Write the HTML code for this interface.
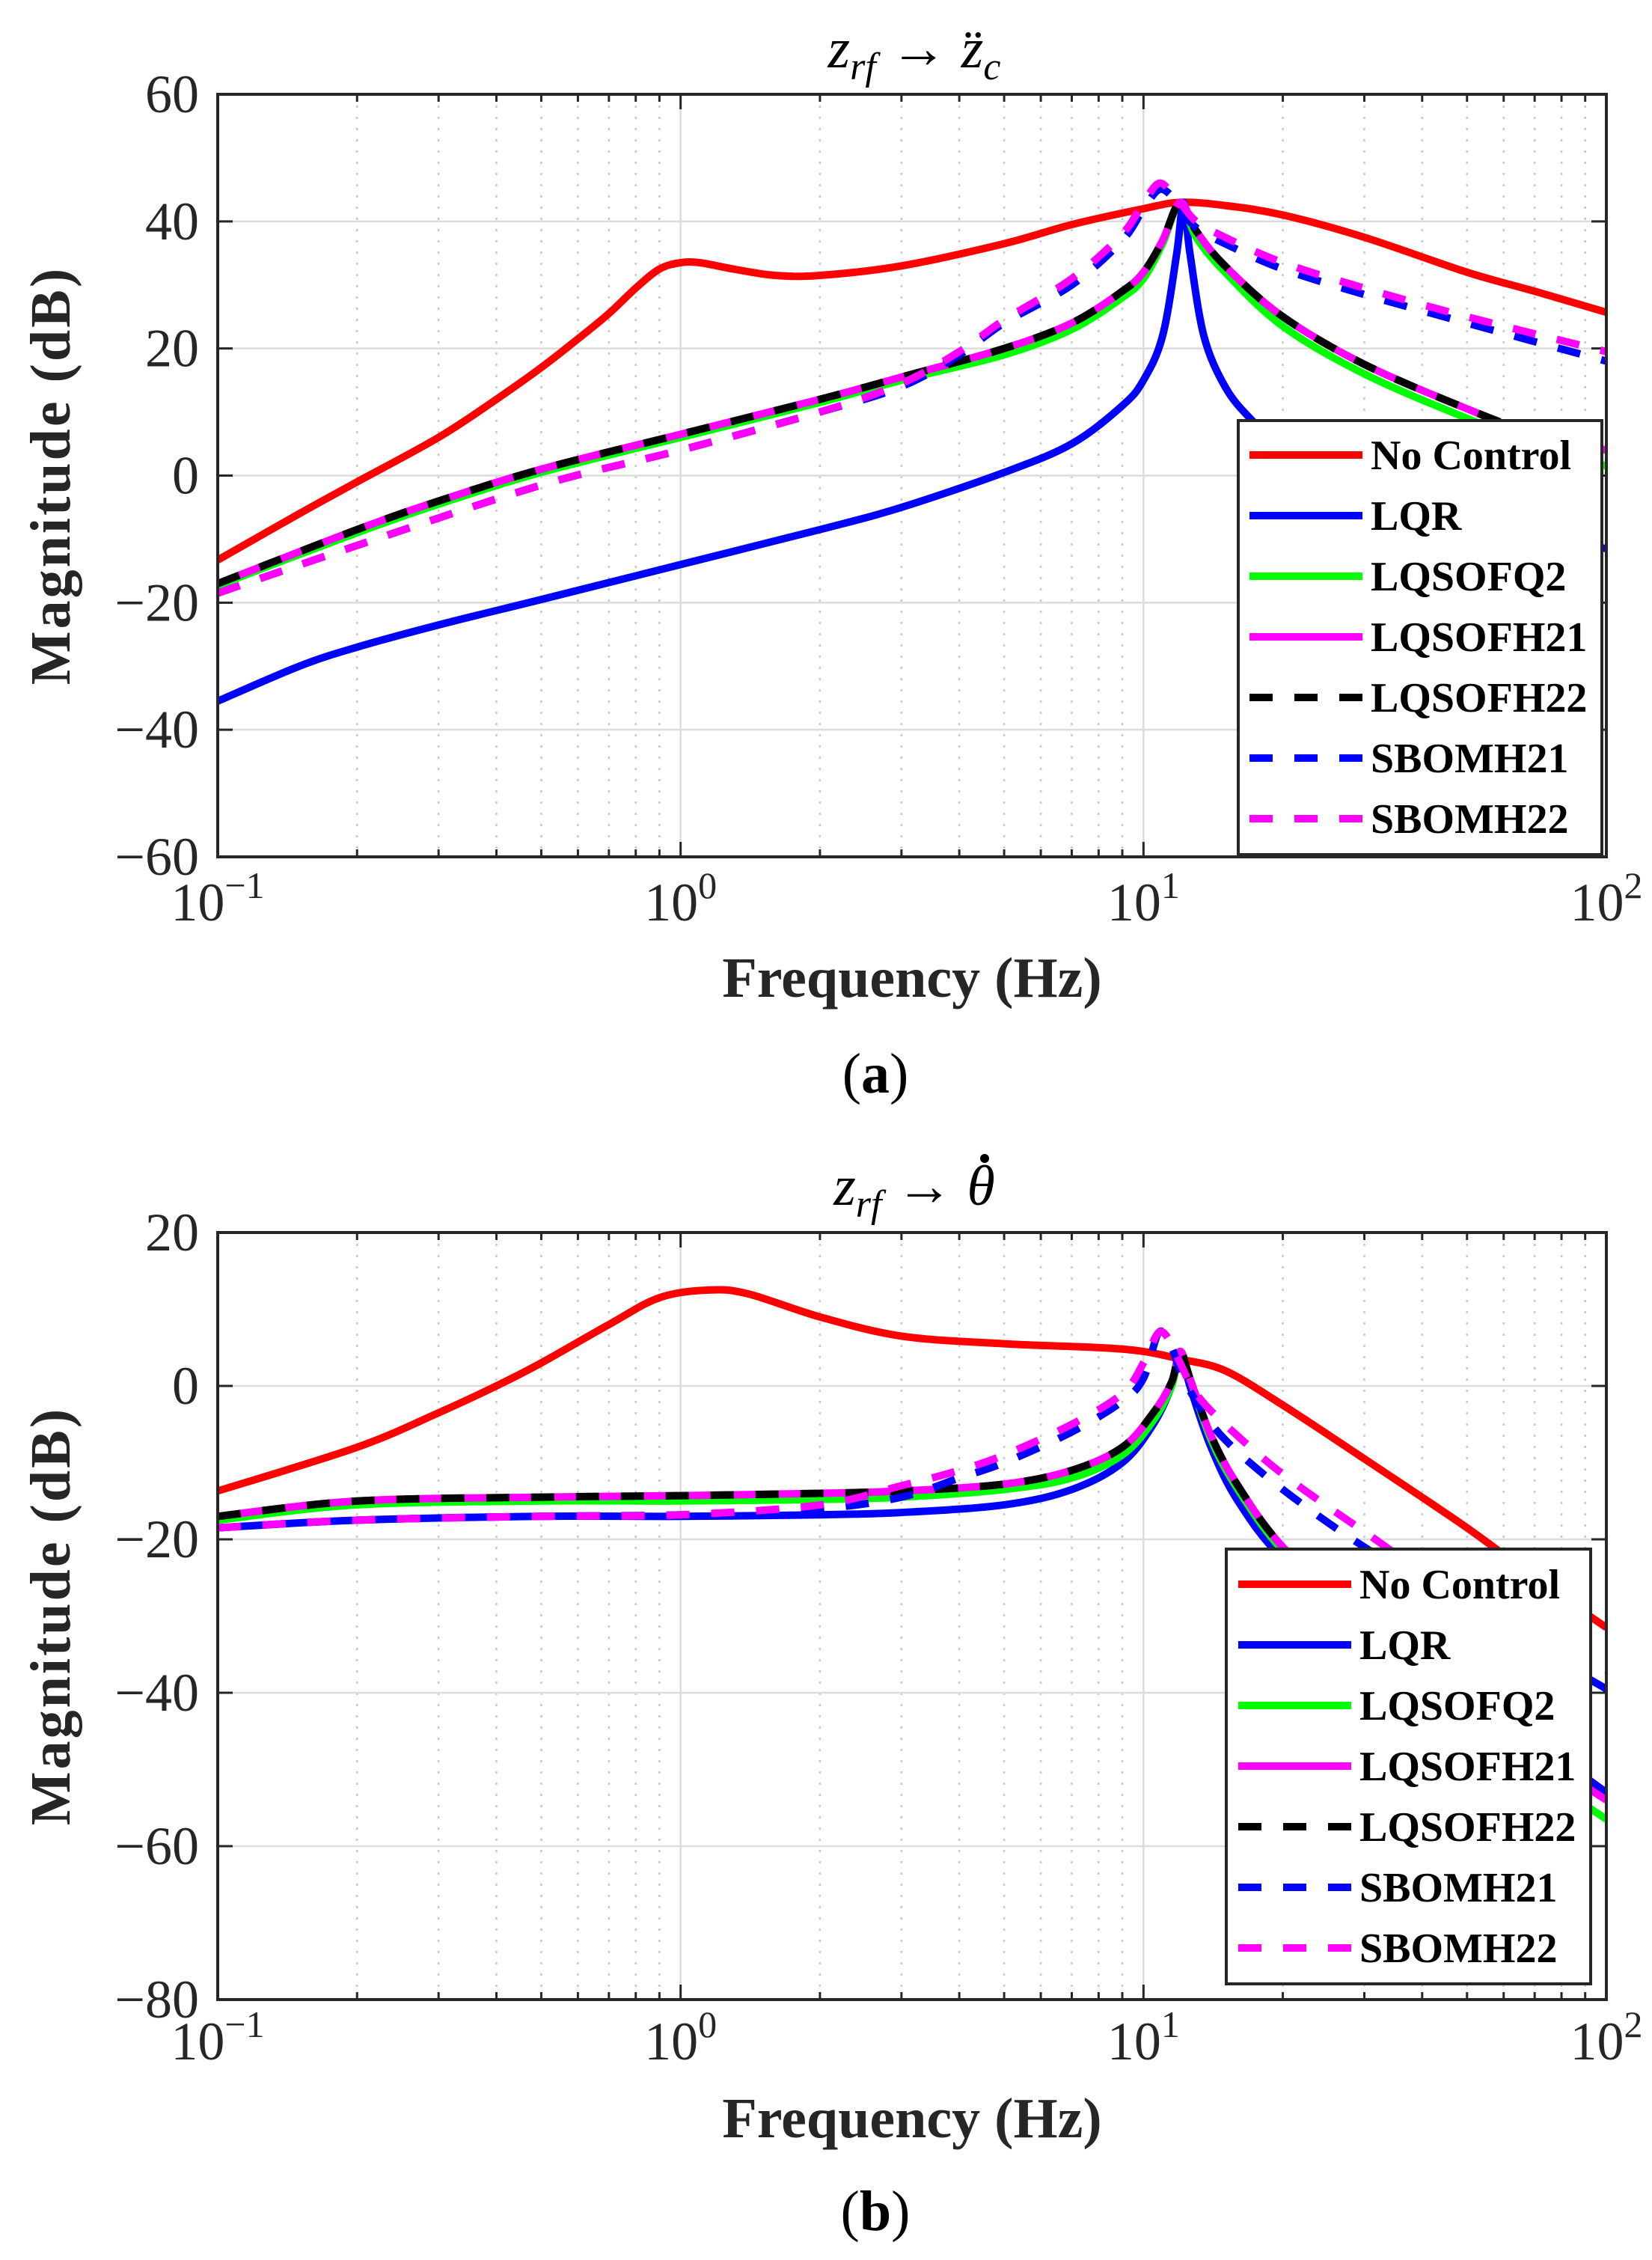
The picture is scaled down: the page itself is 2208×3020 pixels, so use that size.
<!DOCTYPE html>
<html><head><meta charset="utf-8"><style>
html,body{margin:0;padding:0;background:#fff;}
svg{display:block;}
</style></head><body>
<svg id="fig" width="2208" height="3020" viewBox="0 0 2208 3020" xmlns="http://www.w3.org/2000/svg"></svg>
<script>
// ---------- Data (panel a: z_rf -> z_c'') ----------
const freqA_noctl = [0.1,0.15,0.2,0.3,0.4,0.5,0.6,0.7,0.8,0.9,1.0,1.1,1.3,1.6,2,3,5,7,10,12,15,20,30,50,70,100];
const magA_noctl  = [-13.3,-6,-1,6,12,17,21.5,25.5,29.5,32.5,33.5,33.5,32.5,31.5,31.5,33,36.5,39.5,42,43,42.5,41,37.5,32,29,25.7];
const freqA_lqr = [0.1,0.15,0.2,0.3,0.5,1,2,3,5,7,9,10,11,11.8,12.2,12.6,13.5,15,17,20,30,50,100];
const magA_lqr  = [-35.5,-30,-27,-23.5,-19.5,-14,-8.5,-5,0.5,5,11,15,22,35,43,35,22,14,9,4.5,-2,-7,-11.5];
const freqA_q2 = [0.1,0.2,0.3,0.5,1,2,3,5,7,9,10,11,12,13,15,20,30,50,70,100];
const magA_q2  = [-17.3,-9,-4.5,0.5,6,11.5,15,19,23,28,31,36.5,43,37.5,32,23.5,16,9,5,1.5];
const magA_h21 = [-17,-8.5,-4,1,6.5,12,15.5,20,24,29,32,37,43,38.5,33,25,17.5,10.5,6.5,4];
const magA_h22 = [-17,-8.5,-4,1,6.5,12,15.5,20,24,29,32,37,43,38.5,33,25,17.5,10.5,6.5,3];
const freqA_sb = [0.1,0.2,0.5,1,2,3,4,5,7,9,10,10.8,11.5,12,13,15,20,30,50,100];
const magA_sb21 = [-18.5,-11,-1.5,4,10,14,19,24,30,37,42,45,44,42,39,36.5,32.5,28.5,24,18];
const magA_sb22 = [-18.5,-11,-1.5,4,10,14.5,19.5,24.5,31,38,43,46,44.5,43,40,37.5,33.5,29.5,25,19.5];

// ---------- Data (panel b: z_rf -> theta') ----------
const freqB_noctl = [0.1,0.2,0.3,0.4,0.5,0.7,0.9,1.15,1.4,2,3,5,8,10,12,15,20,30,50,70,100];
const magB_noctl  = [-13.7,-8,-3.5,0,3,8,11.5,12.5,12,9,6.5,5.5,5,4.5,3.5,2,-2.5,-9.5,-18.5,-25,-31.5];
const freqB_ctl = [0.1,0.2,0.5,1,2,3,5,7,9,10.5,11.5,12,12.6,14,16,20,30,50,100];
const magB_lqr = [-18.5,-17.5,-17,-17,-16.8,-16.5,-15.5,-13.5,-10,-5,0,4.5,0,-8,-15,-22.5,-31,-40,-53];
const magB_q2  = [-17.5,-15.5,-15,-15,-14.8,-14.5,-13.5,-12,-9,-4.5,0,4.5,1,-7,-13.5,-21.5,-32,-44,-56.5];
const magB_h21 = [-17,-15,-14.5,-14.3,-14,-13.7,-12.8,-11,-8,-3.5,0.5,4.5,1,-6.5,-13,-21,-31,-42,-54];
const magB_h22 = [-17,-15,-14.5,-14.3,-14,-13.7,-12.8,-11,-8,-3.5,0.5,4.5,1,-6.5,-13,-21,-31,-42,-53.5];
const freqB_sb = [0.1,0.2,0.5,1,2,3,4,5,7,9,10,10.8,11.5,12,13,15,20,30,50,100];
const magB_sb21 = [-18.5,-17.5,-17,-16.8,-16,-14.5,-12,-10,-6,-2,1,7,5,2,-2,-7,-13.5,-21,-29,-39.5];
const magB_sb22 = [-18.5,-17.5,-17,-16.8,-15.5,-13,-11,-9,-5,-1,3,7,5.5,3,-1,-5,-11.5,-19,-28,-37];

const legendNames = ["No Control","LQR","LQSOFQ2","LQSOFH21","LQSOFH22","SBOMH21","SBOMH22"];
const yTicksA = [60,40,20,0,-20,-40,-60];
const yTicksB = [20,0,-20,-40,-60,-80];
const xDecades = [-1,0,1,2];

const NS="http://www.w3.org/2000/svg";
const svg=document.getElementById('fig');
function el(tag,attrs,parent){const e=document.createElementNS(NS,tag);for(const k in attrs)e.setAttribute(k,attrs[k]);(parent||svg).appendChild(e);return e;}

const styles=[
 {c:'#ff0000',d:null},{c:'#0000ff',d:null},{c:'#00ff00',d:null},{c:'#ff00ff',d:null},
 {c:'#000000',d:'31 29'},{c:'#0000ff',d:'31 29'},{c:'#ff00ff',d:'31 29'}];

function catmull(pts){
  let d='M'+pts[0][0].toFixed(1)+','+pts[0][1].toFixed(1);
  for(let i=0;i<pts.length-1;i++){
    const p0=pts[Math.max(0,i-1)],p1=pts[i],p2=pts[i+1],p3=pts[Math.min(pts.length-1,i+2)];
    const c1=[p1[0]+(p2[0]-p0[0])/6,p1[1]+(p2[1]-p0[1])/6];
    const c2=[p2[0]-(p3[0]-p1[0])/6,p2[1]-(p3[1]-p1[1])/6];
    d+=' C'+c1[0].toFixed(1)+','+c1[1].toFixed(1)+' '+c2[0].toFixed(1)+','+c2[1].toFixed(1)+' '+p2[0].toFixed(1)+','+p2[1].toFixed(1);
  }
  return d;
}

function panel(cfg){
  const {id,L,R,T,B,ymin,ymax,yTicks,series,leg,xlabY,tickY,capY,cap,titleY,titleParts,dot}=cfg;
  const g=el('g',{});
  
  
  const xs=f=>L+(Math.log10(f)+1)/3*(R-L);
  const ys=v=>T+(ymax-v)/(ymax-ymin)*(B-T);
  for(let dec=-1;dec<2;dec++)for(let m=2;m<=9;m++){
    const x=xs(m*Math.pow(10,dec));
    const ln=el('line',{x1:x,x2:x,y1:T,y2:B,stroke:'#c8c8c8','stroke-width':2.5,'stroke-dasharray':'3 12'},g);
    
    
    el('line',{x1:x,x2:x,y1:B,y2:B-10,stroke:'#262626','stroke-width':3},g);
    el('line',{x1:x,x2:x,y1:T,y2:T+10,stroke:'#262626','stroke-width':3},g);
  }
  xDecades.forEach(dv=>{
    const x=xs(Math.pow(10,dv));
    const ln=el('line',{x1:x,x2:x,y1:T,y2:B,stroke:'#dcdcdc','stroke-width':2.5},g);
    
    
    el('line',{x1:x,x2:x,y1:B,y2:B-20,stroke:'#262626','stroke-width':3},g);
    el('line',{x1:x,x2:x,y1:T,y2:T+20,stroke:'#262626','stroke-width':3},g);
    const t=el('text',{x:x,y:tickY,'text-anchor':'middle','font-family':'Liberation Serif, serif','font-size':72,fill:'#262626'},g);
    
    
    t.textContent='10';
    const s=el('tspan',{dy:-30,'font-size':50},t);
    s.textContent=dv<0?'\u2212'+Math.abs(dv):String(dv);
  });
  yTicks.forEach(v=>{
    const y=ys(v);
    const ln=el('line',{x1:L,x2:R,y1:y,y2:y,stroke:'#dcdcdc','stroke-width':2.5},g);
    
    
    el('line',{x1:L,x2:L+20,y1:y,y2:y,stroke:'#262626','stroke-width':3},g);
    el('line',{x1:R,x2:R-20,y1:y,y2:y,stroke:'#262626','stroke-width':3},g);
    const t=el('text',{x:266,y:y+24,'text-anchor':'end','font-family':'Liberation Serif, serif','font-size':72,fill:'#262626'},g);
    
    
    t.textContent=v<0?'\u2212'+Math.abs(v):String(v);
  });
  const clipId='clip'+id;
  const cp=el('clipPath',{id:clipId},g);
  el('rect',{x:L,y:T,width:R-L,height:B-T},cp);
  const cg=el('g',{'clip-path':'url(#'+clipId+')'},g);
  series.forEach((s,i)=>{
    const pts=s.f.map((f,k)=>[xs(f),ys(s.v[k])]);
    const p=el('path',{d:catmull(pts),fill:'none',stroke:styles[i].c,'stroke-width':10,'stroke-linejoin':'round'},cg);
    if(styles[i].d)p.setAttribute('stroke-dasharray',styles[i].d);
    
    
  });
  const fr=el('rect',{x:L,y:T,width:R-L,height:B-T,fill:'none',stroke:'#262626','stroke-width':4},g);
  
  
  const lg=el('g',{},g);
  
  
  el('rect',{x:leg.x,y:leg.y,width:leg.w,height:leg.h,fill:'#fff',stroke:'#262626','stroke-width':4},lg);
  legendNames.forEach((n,i)=>{
    const cy=leg.row0+i*leg.dy;
    const e=el('g',{},lg);
    
    
    const ln=el('line',{x1:leg.lx1,x2:leg.lx2,y1:cy,y2:cy,stroke:styles[i].c,'stroke-width':10},e);
    if(styles[i].d)ln.setAttribute('stroke-dasharray','31 29');
    const t=el('text',{x:leg.tx,y:cy+19,'font-family':'Liberation Serif, serif','font-weight':'bold','font-size':56,fill:'#000'},e);
    t.textContent=n;
  });
  const xl=el('text',{x:(L+R)/2,y:xlabY,'text-anchor':'middle','font-family':'Liberation Serif, serif','font-weight':'bold','font-size':76,fill:'#262626'},g);
  
  
  xl.textContent='Frequency (Hz)';
  const yc=(T+B)/2;
  const yl=el('text',{x:0,y:0,transform:'translate(93,'+yc+') rotate(-90)','text-anchor':'middle','font-family':'Liberation Serif, serif','font-weight':'bold','font-size':76,fill:'#262626','letter-spacing':3},g);
  
  
  yl.textContent='Magnitude (dB)';
  const tt=el('text',{x:1222,y:titleY,'text-anchor':'middle','font-family':'Liberation Serif, serif','font-size':76,fill:'#000'},g);
  
  
  const a=el('tspan',{'font-style':'italic'},tt);a.textContent='z';
  const b=el('tspan',{'font-style':'italic','font-size':52,dy:16},tt);b.textContent='rf';
  const c=el('tspan',{dy:-16},tt);c.textContent=' \u2192 ';
  const d=el('tspan',{'font-style':'italic'},tt);d.textContent=titleParts[0];
  if(titleParts[1]){const e2=el('tspan',{'font-style':'italic','font-size':52,dy:16},tt);e2.textContent=titleParts[1];}
  if(dot){const dc=el('circle',{cx:dot[0],cy:dot[1],r:6,fill:'#000'},g);
    
    }
  const cpn=el('text',{x:1170,y:capY,'text-anchor':'middle','font-family':'Liberation Serif, serif','font-size':76,fill:'#000'},g);
  
  
  cpn.textContent='(';
  const cb=el('tspan',{'font-weight':'bold'},cpn);cb.textContent=cap;
  const cc=el('tspan',{},cpn);cc.textContent=')';
}

panel({id:'a',L:291,R:2147,T:126,B:1145,ymin:-60,ymax:60,yTicks:yTicksA,
  series:[{f:freqA_noctl,v:magA_noctl},{f:freqA_lqr,v:magA_lqr},{f:freqA_q2,v:magA_q2},{f:freqA_q2,v:magA_h21},{f:freqA_q2,v:magA_h22},{f:freqA_sb,v:magA_sb21},{f:freqA_sb,v:magA_sb22}],
  leg:{x:1655,y:562,w:486,h:580,row0:608,dy:81,lx1:1670,lx2:1821,tx:1832},
  xlabY:1332,tickY:1230,capY:1460,cap:'a',titleY:90,titleParts:['z\u0308','c'],dot:null});
panel({id:'b',L:291,R:2147,T:1647,B:2672,ymin:-80,ymax:20,yTicks:yTicksB,
  series:[{f:freqB_noctl,v:magB_noctl},{f:freqB_ctl,v:magB_lqr},{f:freqB_ctl,v:magB_q2},{f:freqB_ctl,v:magB_h21},{f:freqB_ctl,v:magB_h22},{f:freqB_sb,v:magB_sb21},{f:freqB_sb,v:magB_sb22}],
  leg:{x:1639,y:2070,w:487,h:581,row0:2117,dy:81,lx1:1655,lx2:1806,tx:1817},
  xlabY:2856,tickY:2752,capY:2980,cap:'b',titleY:1610,titleParts:['\u03B8',null],dot:[1316,1548]});
</script>
</body></html>
